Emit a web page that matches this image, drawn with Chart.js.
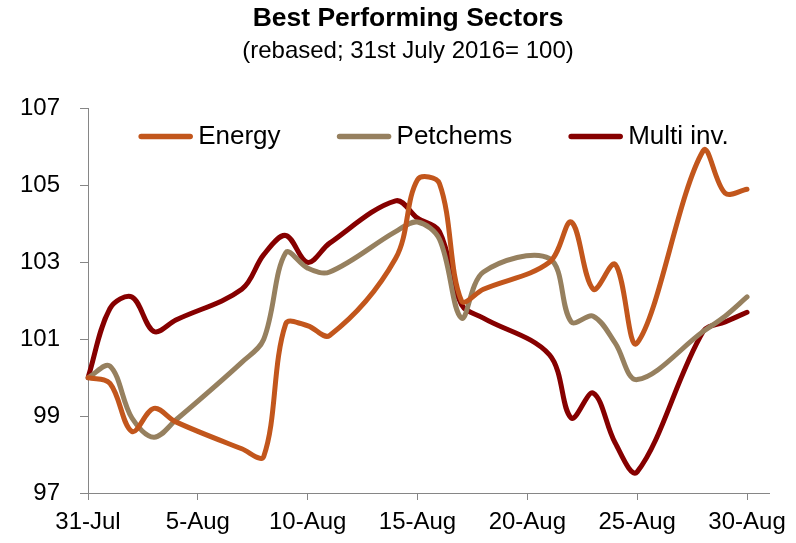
<!DOCTYPE html>
<html>
<head>
<meta charset="utf-8">
<title>Best Performing Sectors</title>
<script src="https://cdn.jsdelivr.net/npm/chart.js@4.4.0/dist/chart.umd.min.js"></script>
<style>
  html, body { margin: 0; padding: 0; background: #fff; }
  #wrap { width: 796px; height: 543px; }
</style>
</head>
<body>
<div id="wrap"><canvas id="myChart"></canvas></div>
<script>
// calendar days on the axis; null = market closed (weekend)
const days = ["31-Jul", "1-Aug", "2-Aug", "3-Aug", "4-Aug", "5-Aug", "6-Aug", "7-Aug",
  "8-Aug", "9-Aug", "10-Aug", "11-Aug", "12-Aug", "13-Aug", "14-Aug", "15-Aug",
  "16-Aug", "17-Aug", "18-Aug", "19-Aug", "20-Aug", "21-Aug", "22-Aug", "23-Aug",
  "24-Aug", "25-Aug", "26-Aug", "27-Aug", "28-Aug", "29-Aug", "30-Aug", "31-Aug"];
const tickLabels = ["31-Jul", "5-Aug", "10-Aug", "15-Aug", "20-Aug", "25-Aug", "30-Aug"];

const energy = [100, 99.85, 98.6, 99.2, 98.85, null, null, 98.15, 97.95, 101.4, 101.35, 101.1,
  null, null, 103.1, 105.15, 105.05, 102.0, 102.3, null, null, 103.0, 104.05, 102.3, 102.95,
  100.9, null, null, 105.9, 104.8, 104.9, null];
const petchems = [100, 100.3, 98.95, 98.45, 98.9, null, null, 100.4, 101.0, 103.25, 102.85, 102.75,
  null, null, 103.8, 104.05, 103.6, 101.55, 102.75, null, null, 103.1, 101.45, 101.6, 100.9,
  99.95, null, null, 101.2, 101.6, 102.1, null];
const multiInv = [100, 101.8, 102.1, 101.2, 101.5, null, null, 102.3, 103.2, 103.7, 103.0, 103.5,
  null, null, 104.6, 104.15, 103.8, 101.9, 101.55, null, null, 100.6, 98.95, 99.6, 98.3,
  97.55, null, null, 101.2, 101.45, 101.7, null];

const axisColor = "#868686";
const fontFamily = '"Liberation Sans", Arial, sans-serif';
Chart.defaults.font.family = fontFamily;
Chart.defaults.color = "#000";

// legend drawn inside the plot, short line sample + label
const lineLegend = {
  id: "lineLegend",
  afterDraw(chart) {
    const { ctx, chartArea } = chart;
    ctx.save();
    ctx.font = "26px " + fontFamily;
    ctx.textBaseline = "middle";
    const items = chart.data.datasets.map(ds => ({
      text: ds.label, color: ds.borderColor, w: ctx.measureText(ds.label).width
    }));
    const sample = 55, gap = 5, spacing = 56;
    const total = items.reduce((s, it) => s + sample + gap + it.w, 0) + spacing * (items.length - 1);
    let x = (chartArea.left + chartArea.right) / 2 - total / 2 + 5;
    const y = chartArea.top + 28;
    items.forEach(it => {
      ctx.strokeStyle = it.color;
      ctx.lineWidth = 5.5;
      ctx.lineCap = "round";
      ctx.beginPath();
      ctx.moveTo(x + 3, y);
      ctx.lineTo(x + sample - 3, y);
      ctx.stroke();
      ctx.fillStyle = "#000";
      ctx.fillText(it.text, x + sample + gap, y);
      x += sample + gap + it.w + spacing;
    });
    ctx.restore();
  }
};

function series(label, data, color) {
  return {
    label: label,
    data: data,
    yAxisID: "y",
    borderColor: color,
    backgroundColor: color,
    borderWidth: 5,
    pointRadius: 0,
    tension: 0.35,
    spanGaps: true,
    borderCapStyle: "round",
    borderJoinStyle: "round"
  };
}

const ctx = document.getElementById("myChart");
const chart = new Chart(ctx, {
  type: "line",
  data: {
    labels: days,
    datasets: [
      series("Energy", energy, "#C2561C"),
      series("Petchems", petchems, "#96805F"),
      series("Multi inv.", multiInv, "#860000"),
    ],
  },
  options: {
    responsive: true,
    maintainAspectRatio: false,
    animation: false,
    devicePixelRatio: 1,
    layout: { padding: { left: 20, right: 0, top: 0, bottom: 0 } },
    plugins: {
      legend: { display: false },
      tooltip: { enabled: false },
      title: {
        display: true,
        text: "Best Performing Sectors",
        color: "#000",
        font: { size: 26.5, weight: "bold" },
        padding: { top: 3, bottom: 2 },
      },
      subtitle: {
        display: true,
        text: "(rebased; 31st July 2016= 100)",
        color: "#000",
        font: { size: 24, weight: "normal" },
        padding: { top: 0, bottom: 43 },
      },
    },
    scales: {
      x: {
        type: "category",
        offset: false,
        border: { color: axisColor, width: 1 },
        grid: {
          drawOnChartArea: false,
          drawTicks: true,
          tickLength: 7,
          tickColor: (c) => (c.index % 5 === 0 ? axisColor : "transparent"),
        },
        ticks: {
          autoSkip: false,
          maxRotation: 0,
          padding: 8,
          color: "#000",
          font: { size: 24 },
          callback: function (value, index) {
            const label = this.getLabelForValue(value);
            return tickLabels.includes(label) ? label : "";
          },
        },
        afterFit: (s) => { s.height = 50; },
      },
      y: {
        min: 97,
        max: 107,
        border: { color: axisColor, width: 1 },
        grid: {
          drawOnChartArea: false,
          drawTicks: true,
          tickLength: 8,
          tickColor: axisColor,
        },
        ticks: {
          stepSize: 2,
          padding: 20,
          color: "#000",
          font: { size: 24 },
        },
        afterFit: (s) => { s.width = 68; },
      },
      // empty right-hand margin so the plot stops short of the canvas edge
      yRight: {
        position: "right",
        border: { display: false },
        grid: { display: false },
        ticks: { display: false },
        afterFit: (s) => { s.width = 27; },
      },
    },
  },
  plugins: [lineLegend],
});
</script>
</body>
</html>
